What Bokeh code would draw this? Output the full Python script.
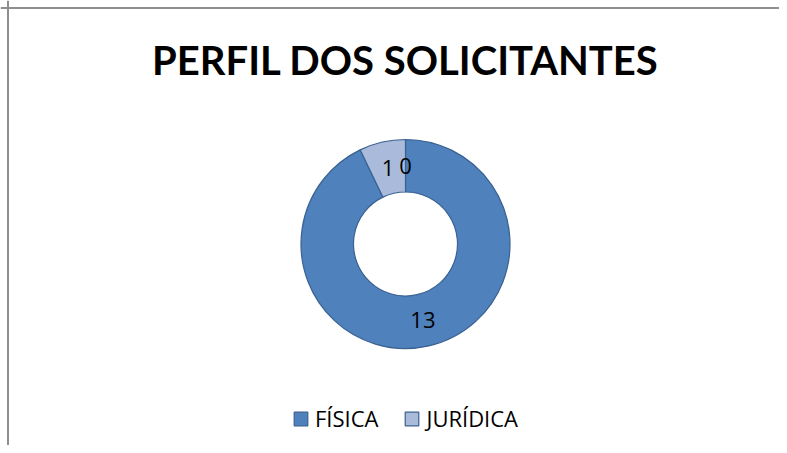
import math
from bokeh.plotting import figure
from bokeh.models import ColumnDataSource, Legend, LegendItem, Span
from bokeh.core.properties import value
from bokeh.embed import file_html
from bokeh.resources import INLINE

title_text = "PERFIL DOS SOLICITANTES"
categories = ["FÍSICA", "JURÍDICA", ""]
values = [13, 1, 0]
colors = ["#4F81BD", "#A9BADB", "#9BBB59"]

W, H = 779, 445
total = sum(values)
starts, ends, mids = [], [], []
cum = 0
for v in values:
    a0 = math.pi / 2 - cum / total * 2 * math.pi
    cum += v
    a1 = math.pi / 2 - cum / total * 2 * math.pi
    starts.append(a0)
    ends.append(a1)
    mids.append((a0 + a1) / 2)

cx, cy = 405, 201.5
r_in, r_out = 52, 104.5
r_lab = (r_in + r_out) / 2

nz = [i for i, v in enumerate(values) if v > 0]
wedge_src = ColumnDataSource(dict(cat=[categories[i] for i in nz],
                                  color=[colors[i] for i in nz],
                                  start=[starts[i] for i in nz],
                                  end=[ends[i] for i in nz]))
label_src = ColumnDataSource(dict(lx=[cx + r_lab * math.cos(m) for m in mids],
                                  ly=[cy + r_lab * math.sin(m) for m in mids],
                                  lab=[str(v) for v in values]))

p = figure(width=W, height=H, x_range=(0, W), y_range=(0, H),
           output_backend="svg", toolbar_location=None, min_border=0)
p.title.visible = False
p.axis.visible = False
p.grid.visible = False
p.outline_line_color = None
p.background_fill_color = "white"
p.border_fill_color = "white"

r = p.annular_wedge(x=cx, y=cy, inner_radius=r_in, outer_radius=r_out,
                    start_angle="start", end_angle="end", direction="clock",
                    fill_color="color", line_color="#3A6190", line_width=1.2,
                    source=wedge_src)

p.text(x="lx", y="ly", text="lab", source=label_src, text_align="center",
       text_baseline="middle", text_font=value("Open Sans"),
       text_font_size="22px", text_color="black")

p.text(x=[cx], y=[H - 59], text=[title_text], text_align="center",
       text_baseline="alphabetic", text_font=value("Lato"),
       text_font_style="bold", text_font_size="40px", text_color="black")

p.add_layout(Span(location=H - 7.5, dimension="width", line_color="#8E8E8E", line_width=2))
p.add_layout(Span(location=7.5, dimension="height", line_color="#8E8E8E", line_width=2))

items = [LegendItem(label=c, renderers=[r], index=i)
         for i, c in enumerate(wedge_src.data["cat"]) if c]
legend = Legend(items=items, orientation="horizontal", location=(292, 12),
                padding=0, margin=0, border_line_color=None,
                background_fill_alpha=0, glyph_width=17, glyph_height=17,
                label_standoff=6, spacing=25,
                label_text_font="Open Sans", label_text_font_size="22px",
                label_text_color="black")
p.add_layout(legend, "center")

open("out.html", "w").write(file_html(p, INLINE))
